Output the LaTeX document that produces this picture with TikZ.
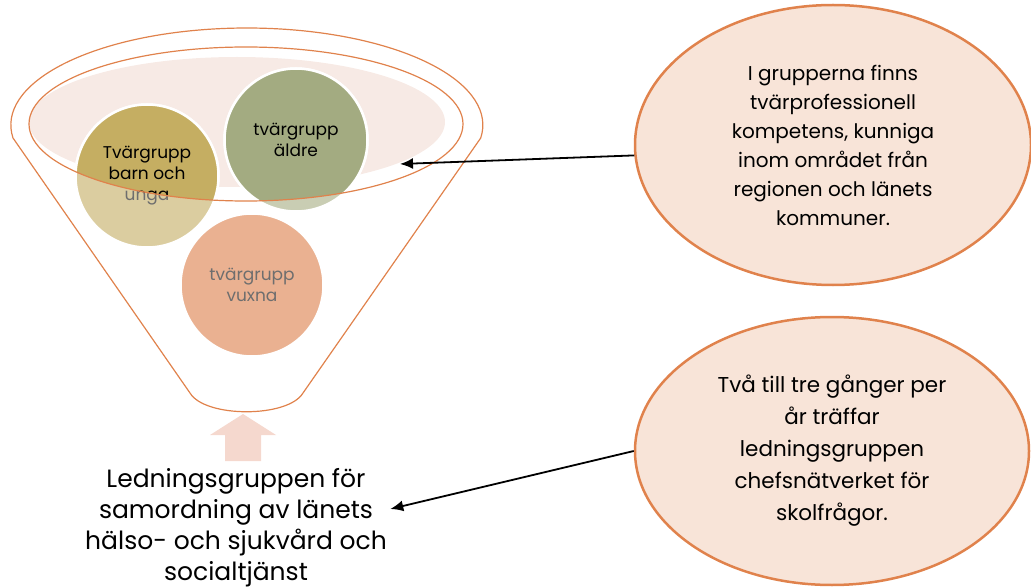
\documentclass[tikz,border=0pt]{standalone}
\usepackage{fontspec}
\setmainfont{Poppins}
\definecolor{rimorange}{RGB}{224,130,76}
\definecolor{rimfill}{RGB}{247,234,229}
\definecolor{infofill}{RGB}{248,228,216}
\definecolor{barnfill}{RGB}{197,174,98}
\definecolor{barnpale}{RGB}{219,205,160}
\definecolor{aldrefill}{RGB}{163,171,129}
\definecolor{aldrepale}{RGB}{201,205,179}
\definecolor{vuxfill}{RGB}{234,177,145}
\definecolor{liftpink}{RGB}{245,216,206}
\definecolor{grptext}{RGB}{110,110,110}
\usetikzlibrary{positioning,shapes.geometric,arrows.meta}
\tikzset{
  grp/.style={circle, draw=white, line width=2.5pt, minimum size=143pt, inner sep=0pt,
    align=center, text=grptext, font=\fontsize{17}{21}\selectfont},
  info/.style={ellipse, draw=rimorange, line width=2.5pt, fill=infofill, inner sep=0pt, align=center},
  rim/.style={draw=rimorange, line width=1.2pt},
  pointer/.style={-{Latex[length=13pt,width=11pt]}, line width=1.8pt}
}

\begin{document}
\begin{tikzpicture}[x=1pt, y=-1pt]
  \useasboundingbox (0,0) rectangle (1031,588);

  % rim
  \fill [rimfill] (237,122) ellipse [x radius=208pt, y radius=65pt];

  % groups, pale below the rim
  \node [grp, fill=barnpale] (barn) at (147,176) {Tvärgrupp\\barn och\\unga};
  \node [grp, fill=aldrepale] (aldre) at (296,140) {tvärgrupp\\äldre};
  \node [grp, fill=vuxfill] (vuxna) at (252,285) {tvärgrupp\\vuxna};

  % groups inside the rim
  \begin{scope}
    \clip (246,124) ellipse [x radius=217pt, y radius=77pt];
    \node [grp, fill=barnfill, text=black] (barnin) at (barn) {Tvärgrupp\\barn och\\unga};
    \node [grp, fill=aldrefill, text=black] (aldrein) at (aldre) {tvärgrupp\\äldre};
  \end{scope}

  \draw [rim] (246,124) ellipse [x radius=217pt, y radius=77pt];

  % funnel
  \draw [rim] (13,138) arc [start angle=187.7, end angle=-7.7, x radius=236pt, y radius=97pt]
    -- (303,393) .. controls (288,418) and (205,418) .. (190,393) -- cycle;

  % lift
  \fill [liftpink] (243,414) -- (276,435) -- (261,435) -- (261,461) -- (225,461) -- (225,435) -- (210,435) -- cycle;

  \node [align=center, font=\fontsize{25}{31}\selectfont] (lead) at (236,528)
    {Ledningsgruppen för\\samordning av länets\\hälso- och sjukvård och\\socialtjänst};

  \node [info, minimum width=396pt, minimum height=280pt, font=\fontsize{20}{29}\selectfont] (info1) at (833,145)
    {I grupperna finns\\tvärprofessionell\\kompetens, kunniga\\inom området från\\regionen och länets\\kommuner.};
  \node [info, minimum width=394pt, minimum height=268pt, font=\fontsize{21.5}{32}\selectfont] (info2) at (832,451)
    {Två till tre gånger per\\år träffar\\ledningsgruppen\\chefsnätverket för\\skolfrågor.};

  \coordinate (tip1) at (400,164);
  \draw [pointer] (info1.183) -- (tip1);
  \draw [pointer] (info2.west) -- ([yshift=19pt]lead.east);
\end{tikzpicture}
\end{document}
